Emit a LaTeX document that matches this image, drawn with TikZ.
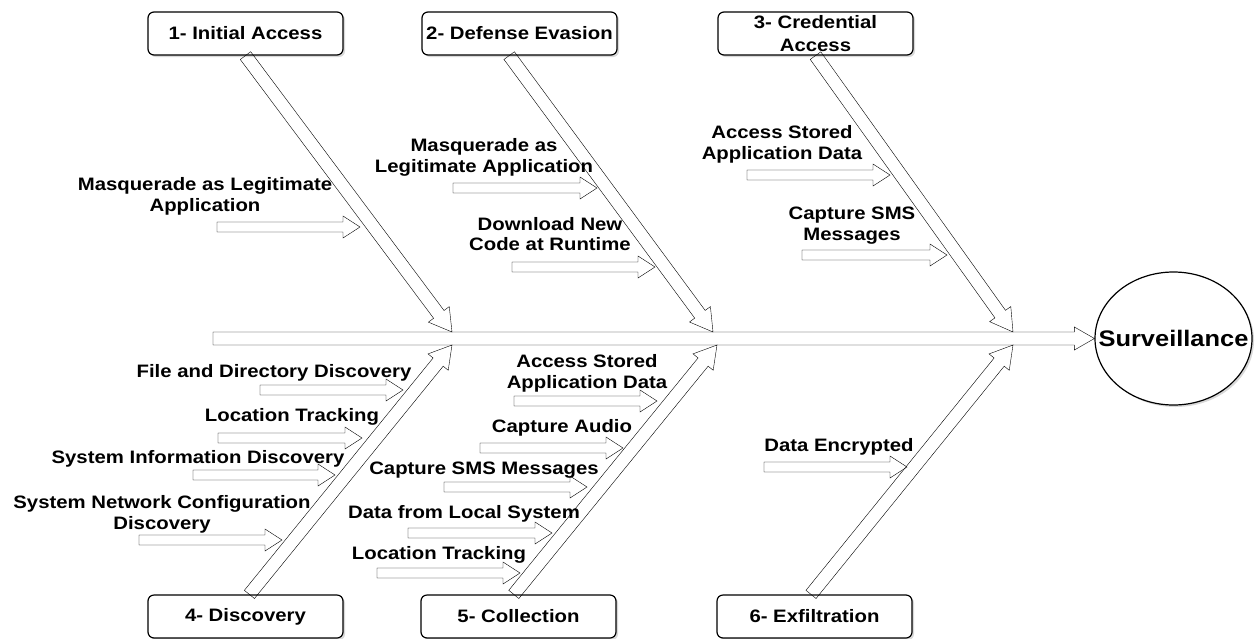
\documentclass[tikz,border=0pt]{standalone}
\usepackage{fontspec}
\setmainfont{Liberation Sans}[FakeStretch=1.13]
\usetikzlibrary{calc,shapes.geometric,shadows}

\begin{document}
\begin{tikzpicture}[x=1pt,y=-1pt,
every node/.style={font=\fontsize{18}{20.8}\selectfont\bfseries, align=center},
cat/.style={draw, line width=1.2pt, rounded corners=6pt, fill=white, minimum width=195pt, minimum height=43pt, inner sep=1pt,
  drop shadow={shadow xshift=2pt, shadow yshift=-2pt, opacity=0.3}},
lbl/.style={inner sep=0pt, yshift=-2pt},
goal/.style={ellipse, draw, line width=1.2pt, fill=white, minimum width=157pt, minimum height=133pt, inner sep=0pt,
  font=\fontsize{22.5}{26}\selectfont\bfseries, drop shadow={shadow xshift=2pt, shadow yshift=-2pt, opacity=0.3}},
fat/.style n args={3}{draw=black!80, fill=white, line width=0.9pt, to path={
  ($(\tikztostart)!#1!90:(\tikztotarget)$)
  -- ($($(\tikztotarget)!#3!(\tikztostart)$)!#1!90:(\tikztotarget)$)
  -- ($($(\tikztotarget)!#3!(\tikztostart)$)!#2!90:(\tikztotarget)$)
  -- (\tikztotarget)
  -- ($($(\tikztotarget)!#3!(\tikztostart)$)!#2!-90:(\tikztotarget)$)
  -- ($($(\tikztotarget)!#3!(\tikztostart)$)!#1!-90:(\tikztotarget)$)
  -- ($(\tikztostart)!#1!-90:(\tikztotarget)$)
  -- cycle}},
spine/.style={fat={6.5pt}{11.5pt}{20pt}},
bone/.style={fat={6.5pt}{13pt}{22pt}},
twig/.style={fat={5pt}{11pt}{17pt}}
]
\useasboundingbox (0,0) rectangle (1255,638);

% head and spine
\node[goal] at (1173.5,338.5) (surv) {\makebox[0pt]{Surveillance}};
\coordinate (tail) at (213,338.5);
\draw (tail) to[spine] (surv.west);

% categories
\node[cat] at (245.5,33.5) (ia) {1- Initial Access};
\node[cat] at (519.5,33.5) (de) {2- Defense Evasion};
\node[cat] at (815.5,33.5) (ca) {3- Credential\\[3pt]Access};
\node[cat] at (245.5,616.5) (di) {4- Discovery};
\node[cat] at (518.5,616.5) (co) {5- Collection};
\node[cat] at (814.5,616.5) (ex) {6- Exfiltration};

\coordinate (ia-t) at (452,332);
\coordinate (de-t) at (713,332);
\coordinate (ca-t) at (1013,332);
\coordinate (di-t) at (452,345);
\coordinate (co-t) at (717,345);
\coordinate (ex-t) at (1013,345);

\draw (ia.south) to[bone] (ia-t);
\draw (de.-115) to[bone] (de-t);
\draw (ca.south) to[bone] (ca-t);
\draw (di.80) to[bone] (di-t);
\draw (co.102) to[bone] (co-t);
\draw (ex.99) to[bone] (ex-t);

% 1- Initial Access
\node[lbl] at (205,194) (ia1) {Masquerade as Legitimate\\Application};
\coordinate (ia1-s) at (217,227); \coordinate (ia1-e) at (360,227);
\draw (ia1-s) to[twig] (ia1-e);

% 2- Defense Evasion
\node[lbl] at (484,155) (de1) {Masquerade as\\Legitimate Application};
\coordinate (de1-s) at (453,188); \coordinate (de1-e) at (597,188);
\draw (de1-s) to[twig] (de1-e);
\node[lbl] at (550,232) (de2) {Download New\\Code at Runtime};
\coordinate (de2-s) at (512,267); \coordinate (de2-e) at (655,267);
\draw (de2-s) to[twig] (de2-e);

% 3- Credential Access
\node[lbl] at (782,142) (ca1) {Access Stored\\Application Data};
\coordinate (ca1-s) at (747,175); \coordinate (ca1-e) at (890,175);
\draw (ca1-s) to[twig] (ca1-e);
\node[lbl] at (852,224) (ca2) {Capture SMS\\Messages};
\coordinate (ca2-s) at (802,255); \coordinate (ca2-e) at (947,255);
\draw (ca2-s) to[twig] (ca2-e);

% 4- Discovery
\node[lbl] at (274,371) (di1) {File and Directory Discovery};
\coordinate (di1-s) at (260,390); \coordinate (di1-e) at (403,390);
\draw (di1-s) to[twig] (di1-e);
\node[lbl] at (292,415) (di2) {Location Tracking};
\coordinate (di2-s) at (218,438); \coordinate (di2-e) at (362,438);
\draw (di2-s) to[twig] (di2-e);
\node[lbl] at (198,457) (di3) {System Information Discovery};
\coordinate (di3-s) at (193,475); \coordinate (di3-e) at (335,475);
\draw (di3-s) to[twig] (di3-e);
\node[lbl] at (162,512) (di4) {System Network Configuration\\Discovery};
\coordinate (di4-s) at (139,540); \coordinate (di4-e) at (282,540);
\draw (di4-s) to[twig] (di4-e);

% 5- Collection
\node[lbl] at (587,371.5) (co1) {Access Stored\\Application Data};
\coordinate (co1-s) at (514,401); \coordinate (co1-e) at (657,401);
\draw (co1-s) to[twig] (co1-e);
\node[lbl] at (562,426) (co2) {Capture Audio};
\coordinate (co2-s) at (480,448); \coordinate (co2-e) at (623,448);
\draw (co2-s) to[twig] (co2-e);
\node[lbl] at (484,468) (co3) {Capture SMS Messages};
\coordinate (co3-s) at (444,487); \coordinate (co3-e) at (587,487);
\draw (co3-s) to[twig] (co3-e);
\node[lbl] at (464,512) (co4) {Data from Local System};
\coordinate (co4-s) at (408,533); \coordinate (co4-e) at (552,533);
\draw (co4-s) to[twig] (co4-e);
\node[lbl] at (439,553) (co5) {Location Tracking};
\coordinate (co5-s) at (377,573); \coordinate (co5-e) at (520,573);
\draw (co5-s) to[twig] (co5-e);

% 6- Exfiltration
\node[lbl] at (839,445) (ex1) {Data Encrypted};
\coordinate (ex1-s) at (764,467); \coordinate (ex1-e) at (907,467);
\draw (ex1-s) to[twig] (ex1-e);

\end{tikzpicture}
\end{document}
